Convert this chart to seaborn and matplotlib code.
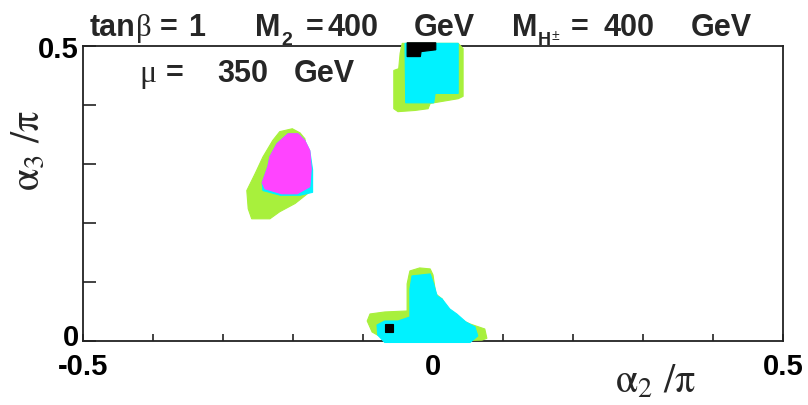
import matplotlib
matplotlib.use("Agg")
import matplotlib.pyplot as plt
import matplotlib.transforms as mtransforms
import seaborn as sns
import numpy as np

# Allowed regions in the (alpha2/pi, alpha3/pi) plane, outlined per category
top_green_x = [-0.044, 0.036, 0.043, 0.043, 0.036, -0.004, -0.007, -0.026, -0.050, -0.056, -0.056, -0.049, -0.047]
top_green_y = [0.505, 0.505, 0.496, 0.415, 0.411, 0.403, 0.394, 0.391, 0.389, 0.394, 0.459, 0.462, 0.488]
top_cyan_x = [-0.040, 0.036, 0.036, 0.003, 0.001, -0.039]
top_cyan_y = [0.505, 0.505, 0.420, 0.420, 0.404, 0.404]
top_black_x = [-0.037, 0.004, 0.004, -0.017, -0.018, -0.037]
top_black_y = [0.506, 0.506, 0.494, 0.491, 0.4825, 0.4825]

mid_green_x = [-0.219, -0.201, -0.190, -0.183, -0.174, -0.179, -0.197, -0.219, -0.233, -0.259, -0.264, -0.266, -0.254, -0.243, -0.236, -0.229]
mid_green_y = [0.355, 0.360, 0.353, 0.343, 0.258, 0.250, 0.233, 0.219, 0.207, 0.207, 0.224, 0.255, 0.284, 0.312, 0.326, 0.340]
mid_cyan_x = [-0.223, -0.207, -0.193, -0.183, -0.176, -0.172, -0.172, -0.190, -0.218, -0.243, -0.244, -0.236, -0.233]
mid_cyan_y = [0.3345, 0.3515, 0.3515, 0.3396, 0.3226, 0.290, 0.252, 0.247, 0.247, 0.255, 0.2682, 0.2954, 0.3124]
mid_mag_x = [-0.223, -0.207, -0.193, -0.183, -0.176, -0.174, -0.176, -0.194, -0.216, -0.240, -0.244, -0.236, -0.233]
mid_mag_y = [0.3345, 0.3515, 0.3515, 0.3396, 0.3226, 0.292, 0.2614, 0.2495, 0.2495, 0.258, 0.2682, 0.2954, 0.3124]

bot_green_x = [-0.033, -0.019, -0.004, 0.000, 0.004, 0.013, 0.020, 0.031, 0.053, 0.074, 0.077, 0.070, -0.062, -0.074, -0.087, -0.094, -0.090, -0.069, -0.037, -0.037, -0.034]
bot_green_y = [0.1185, 0.1236, 0.1219, 0.1117, 0.0794, 0.0709, 0.0539, 0.0403, 0.0284, 0.0199, 0.004, 0.001, -0.003, 0.006, 0.0148, 0.0335, 0.0454, 0.0488, 0.0505, 0.0964, 0.1134]
bot_cyan_x = [-0.030, -0.004, 0.001, 0.006, 0.013, 0.024, 0.034, 0.047, 0.060, 0.064, 0.053, -0.069, -0.079, -0.080, -0.069, -0.050, -0.033, -0.033]
bot_cyan_y = [0.110, 0.1134, 0.0964, 0.076, 0.0709, 0.0539, 0.0454, 0.0318, 0.0233, 0.008, -0.003, -0.003, 0.0097, 0.0267, 0.0335, 0.0335, 0.0403, 0.0879]
bot_black_x = [-0.0686, -0.0571, -0.0571, -0.0686]
bot_black_y = [0.0148, 0.0148, 0.0284, 0.0284]

x_ticks = [-0.5, -0.4, -0.3, -0.2, -0.1, 0.0, 0.1, 0.2, 0.3, 0.4, 0.5]
x_ticklabels = ["-0.5", "", "", "", "", "0", "", "", "", "", "0.5"]
y_ticks = [0.0, 0.1, 0.2, 0.3, 0.4, 0.5]
y_ticklabels = ["0", "", "", "", "", "0.5"]

GREEN = "#a8f03c"
CYAN = "#00f2ff"
MAGENTA = "#ff44ff"
BLACK = "#000000"

sns.set_theme(style="ticks")
plt.rcParams["font.family"] = ["Liberation Sans", "DejaVu Sans"]
plt.rcParams["axes.unicode_minus"] = False
plt.rcParams["mathtext.fontset"] = "stix"

W, H = 808, 406
fig = plt.figure(figsize=(W / 100, H / 100), dpi=100)
ax = fig.add_axes([83 / W, 1 - 341.7 / H, 700 / W, (341.7 - 47.3) / H])

regions = [
    (top_green_x, top_green_y, GREEN),
    (top_cyan_x, top_cyan_y, CYAN),
    (top_black_x, top_black_y, BLACK),
    (mid_green_x, mid_green_y, GREEN),
    (mid_cyan_x, mid_cyan_y, CYAN),
    (mid_mag_x, mid_mag_y, MAGENTA),
    (bot_green_x, bot_green_y, GREEN),
    (bot_cyan_x, bot_cyan_y, CYAN),
    (bot_black_x, bot_black_y, BLACK),
]
for xs, ys, col in regions:
    ax.fill(xs, ys, color=col, lw=0.8, ec=col, zorder=3, clip_on=False)

ax.set_xlim(-0.5, 0.5)
ax.set_ylim(0.0, 0.5)
ax.set_xticks(x_ticks)
ax.set_xticklabels(x_ticklabels)
ax.set_yticks(y_ticks)
ax.set_yticklabels(y_ticklabels)
for s in ax.spines.values():
    s.set_linewidth(1.3)
    s.set_color("#222222")
ax.tick_params(axis="x", direction="in", length=5, width=1.2, pad=8,
               labelsize=21, colors="#222222", labelcolor="black")
ax.tick_params(axis="y", direction="in", length=9, width=1.2, pad=3,
               labelsize=21, colors="#222222", labelcolor="black")
for lab in ax.get_xticklabels() + ax.get_yticklabels():
    lab.set_fontweight("bold")
# lift the "0" on the y axis a little so it clears the "-0.5" below it
zero_lab = ax.get_yticklabels()[0]
zero_lab.set_transform(zero_lab.get_transform() +
                       mtransforms.ScaledTranslation(0, 7 / 100, fig.dpi_scale_trans))
ax.grid(False)

ax.set_xlabel(r"$\mathrm{\alpha}_{2}\ /\mathrm{\pi}$", fontsize=29)
ax.xaxis.set_label_coords(0.817, -0.072)
ax.set_ylabel(r"$\mathrm{\alpha}_{3}\ /\mathrm{\pi}$", fontsize=29)
ax.yaxis.set_label_coords(-0.052, 0.65)


def put(x, y, s, size=22, weight="bold", family=None):
    kw = dict(fontsize=size, fontweight=weight, va="baseline", ha="left")
    if family is not None:
        kw["family"] = family
    fig.text(x / W, 1 - y / H, s, **kw)


SERIF = ["Liberation Serif", "DejaVu Serif"]
# tan(beta)
put(90, 36, "tan")
put(136, 36, "β", size=22, weight="normal", family=SERIF)
put(160, 36, "=")
put(188, 36, "1")
# M2
put(255, 36, "M")
put(281, 45, "2", size=14)
put(306, 36, "=")
put(327, 36, "400")
put(414, 36, "GeV")
# charged Higgs mass
put(512, 36, "M")
put(538, 45, "H", size=13)
put(552, 40, "±", size=10, weight="normal")
put(571, 36, "=")
put(603, 36, "400")
put(691, 36, "GeV")
# mu
put(139, 82, "μ", size=23, weight="normal", family=SERIF)
put(166, 82, "=")
put(217, 82, "350")
put(294, 82, "GeV")

fig.savefig("out.png", dpi=100)
